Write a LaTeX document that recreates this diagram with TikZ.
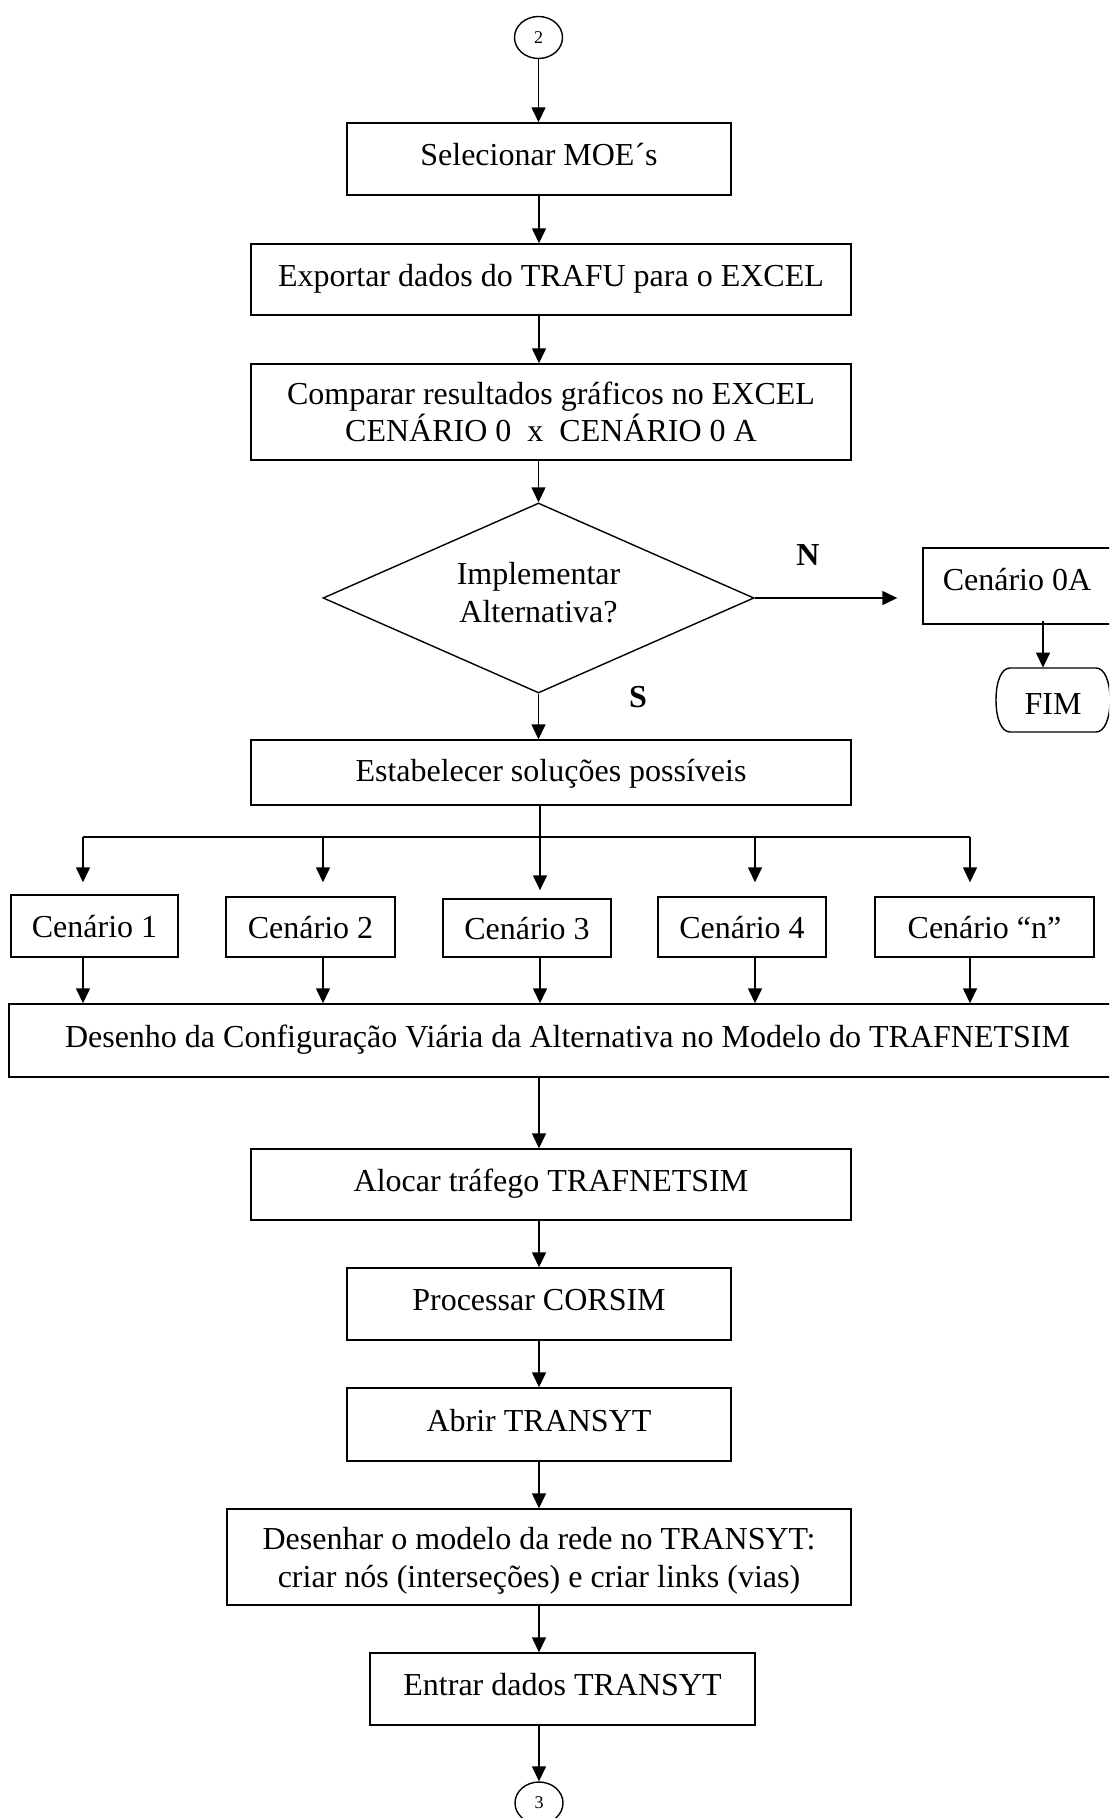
\documentclass[tikz,border=0pt]{standalone}
\usepackage{fontspec}
\setmainfont{Liberation Serif}
\usetikzlibrary{arrows.meta,shapes.geometric}
\begin{document}
\begin{tikzpicture}[x=0.5pt,y=-0.5pt,
  base/.style={draw, line width=0.7pt, inner sep=0pt, font=\fontsize{16}{18.6}\selectfont},
  box/.style={base, rectangle, text height=11.3pt, text depth=4.6pt},
  boxtwo/.style={base, rectangle, align=center},
  cen/.style={base, rectangle, text height=11.5pt, text depth=0pt},
  conn/.style={draw, ellipse, line width=0.7pt, inner sep=0pt, minimum width=24pt, minimum height=21pt, font=\fontsize{9}{10}\selectfont},
  flow/.style={line width=0.7pt, -{Triangle[length=7.5pt,width=7pt]}},
  lbl/.style={inner sep=0pt, font=\fontsize{16}{18.6}\selectfont\bfseries}]
\useasboundingbox (0,0) rectangle (1109,1818);
\clip (0,0) rectangle (1109,1818);

% main column
\coordinate (ax) at (539,0);
\node[conn] (k2) at (538.5,37.5) {2};
\node[box, minimum width=192pt, minimum height=36pt] (sel) at (539,159) {Selecionar MOE´s};
\node[box, minimum width=300pt, minimum height=35.5pt] (exp) at (551,279.5) {Exportar dados do TRAFU para o EXCEL};
\node[boxtwo, minimum width=300pt, minimum height=48pt] (comp) at (551,412) {Comparar resultados gráficos no EXCEL\\CENÁRIO 0\enspace x\enspace CENÁRIO 0 A};
\node[base, diamond, shape aspect=2.27, minimum width=215.5pt, minimum height=95pt] (dia) at (538.5,598) {\raisebox{1pt}[\height][\depth]{\begin{tabular}{@{}c@{}}Implementar\\Alternativa?\end{tabular}}};
\node[lbl] (nlab) at (808,555) {N};
\node[lbl] (slab) at (638,697) {S};
\node[box, minimum width=94pt, minimum height=38pt, text depth=6.6pt] (c0a) at (1017,586) {Cenário 0A};
\node[inner sep=0pt, minimum width=57pt, minimum height=32pt, text height=14.7pt, text depth=0pt, font=\fontsize{16}{18.6}\selectfont] (fim) at (1053,700) {FIM};
\draw[line width=0.7pt] (1010,668) -- (1096,668) .. controls (1104,668) and (1110,680) .. (1110,700) .. controls (1110,720) and (1104,732) .. (1096,732) -- (1010,732) .. controls (1002,732) and (996,720) .. (996,700) .. controls (996,680) and (1002,668) .. (1010,668) -- cycle;
\node[box, minimum width=300pt, minimum height=32.5pt, text depth=2pt] (est) at (551,772.5) {Estabelecer soluções possíveis};

% scenarios
\node[cen, minimum width=83.5pt, minimum height=31pt] (c1) at (94.5,926) {Cenário 1};
\node[cen, minimum width=84.5pt, minimum height=30pt] (cc2) at (310.5,927) {Cenário 2};
\node[cen, minimum width=84pt, minimum height=29pt] (cc3) at (527,928) {Cenário 3};
\node[cen, minimum width=84pt, minimum height=30pt] (cc4) at (742,927) {Cenário 4};
\node[cen, minimum width=109.5pt, minimum height=30pt] (ccn) at (984.5,927) {Cenário “n”};

\node[box, minimum width=558.5pt, minimum height=36.5pt] (des) at (567.5,1040.5) {Desenho da Configuração Viária da Alternativa no Modelo do TRAFNETSIM};
\node[box, minimum width=300pt, minimum height=35.5pt] (aloc) at (551,1184.5) {Alocar tráfego TRAFNETSIM};
\node[box, minimum width=192pt, minimum height=36pt] (proc) at (539,1304) {Processar CORSIM};
\node[box, minimum width=192pt, minimum height=36.5pt] (abr) at (539,1424.5) {Abrir TRANSYT};
\node[boxtwo, minimum width=312pt, minimum height=48pt] (desh) at (539,1557) {\raisebox{-2pt}[\height][\depth]{\begin{tabular}{@{}c@{}}Desenhar o modelo da rede no TRANSYT:\\criar nós (interseções) e criar links (vias)\end{tabular}}};
\node[box, minimum width=192.5pt, minimum height=36pt] (ent) at (562.5,1689) {Entrar dados TRANSYT};
\node[conn] (k3) at (539,1803) {3};

% connectors main column
\draw[flow] (k2.south) -- (sel.north -| k2.south);
\draw[flow] (sel.south -| ax) -- (exp.north -| ax);
\draw[flow] (exp.south -| ax) -- (comp.north -| ax);
\draw[flow] (comp.south -| dia.north) -- (dia.north);
\draw[flow] (dia.south) -- (est.north -| dia.south);
\draw[flow, shorten >=12.5pt] (dia.east) -- (c0a.west |- dia.east);
\coordinate (fx) at (1043,0);
\draw[flow] ([yshift=2pt]c0a.south -| fx) -- (fim.north -| fx);

% bus
\coordinate (bA) at (83,837);
\coordinate (bB) at (323,837);
\coordinate (bC) at (540,837);
\coordinate (bD) at (755,837);
\coordinate (bE) at (970,837);
\draw[line width=0.7pt] (est.south -| bC) -- (bC);
\draw[line width=0.7pt] (bA) -- (bE);
\draw[flow, shorten >=6pt] (bA) -- (c1.north -| bA);
\draw[flow, shorten >=7pt] (bB) -- (cc2.north -| bB);
\draw[flow, shorten >=4pt] (bC) -- (cc3.north -| bC);
\draw[flow, shorten >=7pt] (bD) -- (cc4.north -| bD);
\draw[flow, shorten >=7pt] (bE) -- (ccn.north -| bE);
\draw[flow] (c1.south -| bA) -- (des.north -| bA);
\draw[flow] (cc2.south -| bB) -- (des.north -| bB);
\draw[flow] (cc3.south -| bC) -- (des.north -| bC);
\draw[flow] (cc4.south -| bD) -- (des.north -| bD);
\draw[flow] (ccn.south -| bE) -- (des.north -| bE);

% lower column
\draw[flow] (des.south -| ax) -- (aloc.north -| ax);
\draw[flow] (aloc.south -| ax) -- (proc.north -| ax);
\draw[flow] (proc.south -| ax) -- (abr.north -| ax);
\draw[flow] (abr.south -| ax) -- (desh.north -| ax);
\draw[flow] (desh.south -| ax) -- (ent.north -| ax);
\draw[flow] (ent.south -| k3.north) -- (k3.north);
\end{tikzpicture}
\end{document}
